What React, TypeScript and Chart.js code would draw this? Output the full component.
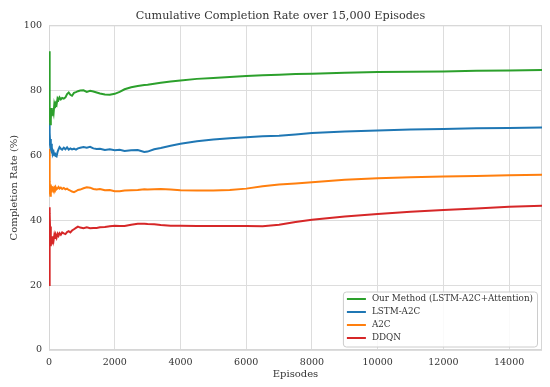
import React, { useEffect, useRef } from "react";
import { Chart, registerables } from "chart.js";

Chart.register(...registerables);

const titleText = "Cumulative Completion Rate over 15,000 Episodes";
const xTitle = "Episodes";
const yTitle = "Completion Rate (%)";
const seriesNames = ["Our Method (LSTM-A2C+Attention)", "LSTM-A2C", "A2C", "DDQN"];
const seriesColors = ["#2ca02c", "#1f77b4", "#ff7f0e", "#d62728"];
const xTicks = [0, 2000, 4000, 6000, 8000, 10000, 12000, 14000];
const yTicks = [0, 20, 40, 60, 80, 100];

const episodes = [
  1, 10, 20, 30, 40, 50, 60, 70, 80, 90,
  100, 120, 140, 160, 180, 200, 230, 260, 290, 320,
  360, 400, 450, 500, 550, 600, 650, 700, 760, 820,
  880, 950, 1050, 1150, 1250, 1350, 1450, 1550, 1700, 1850,
  2000, 2150, 2300, 2500, 2700, 2900, 3000, 3200, 3400, 3700,
  4000, 4500, 5000, 5500, 6000, 6500, 7000, 7500, 8000, 9000,
  10000, 11000, 12000, 13000, 14000, 15000,
];

const ourMethod = [
  92, 81, 70, 74, 69.5, 73, 71, 74.5, 72, 73.5,
  72.5, 74, 73, 75.5, 74.5, 76, 75.5, 77.5, 77, 77.8,
  77.2, 77.6, 77.4, 77.8, 78.8, 79.3, 78.6, 78.3, 79.2, 79.4,
  79.7, 79.9, 80.0, 79.5, 79.8, 79.6, 79.3, 79.0, 78.7, 78.6,
  78.9, 79.5, 80.3, 80.9, 81.3, 81.6, 81.7, 82.0, 82.3, 82.7,
  83.0, 83.5, 83.8, 84.1, 84.4, 84.6, 84.8, 85.0, 85.1, 85.4,
  85.6, 85.7, 85.8, 86.0, 86.1, 86.2,
];

const lstmA2C = [
  70, 66, 63, 67, 62.5, 65, 62, 63.5, 61, 62.5,
  61.5, 60.5, 61, 60, 60.8, 59.8, 59.6, 61, 61.8, 62.5,
  62, 61.7, 62.3, 61.8, 62.4, 61.7, 62.1, 61.8, 62.0, 61.7,
  62.1, 62.3, 62.5, 62.3, 62.6, 62.1, 61.9, 62.0, 61.6, 61.8,
  61.5, 61.7, 61.3, 61.5, 61.6, 61.0, 61.1, 61.8, 62.2, 62.9,
  63.5, 64.3, 64.8, 65.2, 65.5, 65.8, 66.0, 66.4, 66.8, 67.3,
  67.6, 67.9, 68.1, 68.3, 68.4, 68.5,
];

const a2c = [
  62, 53, 48, 52, 47.5, 51, 49, 50.5, 48.5, 50,
  49.2, 50.3, 49.3, 50, 49.6, 50.2, 49.5, 49.8, 50.2, 49.7,
  50.0, 49.6, 49.9, 49.5, 49.7, 49.3, 49.1, 48.8, 48.6, 48.9,
  49.3, 49.4, 49.8, 50.1, 50.0, 49.6, 49.4, 49.6, 49.2, 49.3,
  48.9, 48.9, 49.1, 49.2, 49.3, 49.5, 49.4, 49.5, 49.6, 49.4,
  49.2, 49.1, 49.1, 49.3, 49.7, 50.4, 51.0, 51.3, 51.7, 52.4,
  52.9, 53.2, 53.4, 53.6, 53.8, 54.0,
];

const ddqn = [
  20, 44, 38, 42, 35, 38, 32, 35, 32.5, 34.5,
  33, 35, 33.8, 35.2, 34.2, 35.5, 34.6, 35.8, 35.2, 36,
  35.5, 36.2, 35.9, 35.7, 36.3, 36.6, 36.2, 36.8, 37.2, 37.6,
  38.0, 37.7, 37.5, 37.8, 37.5, 37.6, 37.6, 37.8, 37.9, 38.1,
  38.3, 38.2, 38.2, 38.6, 38.9, 38.9, 38.8, 38.7, 38.5, 38.3,
  38.3, 38.2, 38.2, 38.2, 38.2, 38.1, 38.6, 39.4, 40.1, 41.1,
  41.9, 42.6, 43.1, 43.6, 44.1, 44.4,
];

const seriesValues = [ourMethod, lstmA2C, a2c, ddqn];

const FONT = "'DejaVu Serif', serif";

const frameAndLegend = {
  id: "frameAndLegend",
  beforeDatasetsDraw(chart: any) {
    const { ctx, chartArea: a } = chart;
    ctx.save();
    ctx.strokeStyle = "#d6d6d6";
    ctx.lineWidth = 1;
    ctx.strokeRect(a.left + 0.5, a.top + 0.5, a.right - a.left - 1, a.bottom - a.top - 1);
    ctx.restore();
  },
  afterDraw(chart: any) {
    const { ctx, chartArea: a } = chart;
    const sets = chart.data.datasets;
    ctx.save();
    ctx.font = `11.2px ${FONT}`;
    ctx.fillStyle = "#333333";
    ctx.textAlign = "center";
    ctx.textBaseline = "middle";
    ctx.fillText(titleText, 280.5, 16.5);
    ctx.font = `8.8px ${FONT}`;
    let maxW = 0;
    sets.forEach((d: any) => {
      maxW = Math.max(maxW, ctx.measureText(d.label).width);
    });
    const rowH = 13;
    const lineLen = 19;
    const padL = 4;
    const gap = 6;
    const padR = 4;
    const w = padL + lineLen + gap + maxW + padR;
    const h = 55;
    const right = a.right - 5;
    const bottom = a.bottom - 3.5;
    const x0 = right - w;
    const y0 = bottom - h;
    ctx.fillStyle = "rgba(255,255,255,0.85)";
    ctx.strokeStyle = "#cccccc";
    ctx.lineWidth = 1;
    ctx.beginPath();
    (ctx as any).roundRect(x0 + 0.5, y0 + 0.5, w, h, 3);
    ctx.fill();
    ctx.stroke();
    sets.forEach((d: any, i: number) => {
      const cy = y0 + 7.5 + i * rowH;
      ctx.strokeStyle = d.borderColor;
      ctx.lineWidth = 2;
      ctx.beginPath();
      ctx.moveTo(x0 + padL, cy);
      ctx.lineTo(x0 + padL + lineLen, cy);
      ctx.stroke();
      ctx.fillStyle = "#333333";
      ctx.textBaseline = "middle";
      ctx.textAlign = "left";
      ctx.fillText(d.label, x0 + padL + lineLen + gap, cy);
    });
    ctx.restore();
  },
};

export default function App() {
  const ref = useRef<HTMLCanvasElement | null>(null);
  useEffect(() => {
    if (!ref.current) return;
    Chart.defaults.font.family = FONT;
    const chart = new Chart(ref.current, {
      type: "line",
      data: {
        datasets: seriesNames.map((name, s) => ({
          label: name,
          data: episodes.map((e, i) => ({ x: e, y: seriesValues[s][i] })),
          borderColor: seriesColors[s],
          backgroundColor: seriesColors[s],
          borderWidth: 2,
          pointRadius: 0,
          tension: 0,
          fill: false,
        })),
      },
      options: {
        animation: false,
        responsive: false,
        devicePixelRatio: 1,
        layout: { padding: { left: 0, right: 8, top: 25.3, bottom: 0 } },
        plugins: {
          legend: { display: false },
          tooltip: { enabled: false },
          title: { display: false },
        },
        scales: {
          x: {
            type: "linear",
            min: 0,
            max: 15000,
            afterBuildTicks: (scale: any) => {
              scale.ticks = xTicks.map((v) => ({ value: v }));
            },
            afterFit: (scale: any) => {
              scale.height = 37;
            },
            ticks: {
              autoSkip: false,
              color: "#333333",
              padding: 7,
              maxRotation: 0,
              minRotation: 0,
              font: { size: 9.5, family: FONT },
              callback: (v: any) => String(v),
            },
            grid: { color: "#dddddd", lineWidth: 1, drawTicks: false },
            border: { display: false },
            title: {
              display: true,
              text: xTitle,
              color: "#333333",
              font: { size: 10, family: FONT },
              padding: { top: 0, bottom: 7 },
            },
          },
          y: {
            min: 0,
            max: 100,
            afterBuildTicks: (scale: any) => {
              scale.ticks = yTicks.map((v) => ({ value: v }));
            },
            afterFit: (scale: any) => {
              scale.width = 49;
            },
            ticks: {
              autoSkip: false,
              color: "#333333",
              padding: 7,
              font: { size: 9.5, family: FONT },
              callback: (v: any) => String(v),
            },
            grid: { color: "#dddddd", lineWidth: 1, drawTicks: false },
            border: { display: false },
            title: {
              display: true,
              text: yTitle,
              color: "#333333",
              font: { size: 10, family: FONT },
              padding: { top: 8, bottom: 0 },
            },
          },
        },
      },
      plugins: [frameAndLegend],
    } as any);
    return () => chart.destroy();
  }, []);
  return (
    <div style={{ position: "fixed", left: 0, top: 0, width: 550, height: 387, background: "#fff" }}>
      <canvas ref={ref} width={550} height={387} style={{ width: 550, height: 387, display: "block" }} />
    </div>
  );
}
